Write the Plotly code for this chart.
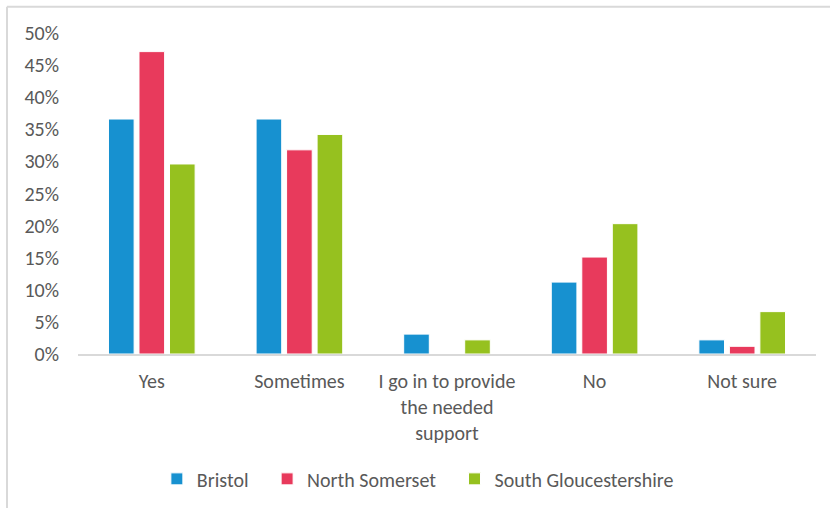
import plotly.graph_objects as go

categories = ["Yes", "Sometimes", "I go in to provide<br>the needed<br>support", "No", "Not sure"]
bristol = [0.366, 0.366, 0.031, 0.112, 0.022]
north_somerset = [0.471, 0.318, 0.0, 0.151, 0.012]
south_glos = [0.296, 0.342, 0.022, 0.203, 0.066]

series = [
    ("Bristol", bristol, "#1791D0"),
    ("North Somerset", north_somerset, "#E83A5C"),
    ("South Gloucestershire", south_glos, "#96C11F"),
]

font_family = "Carlito, Lato, 'Open Sans', sans-serif"
text_color = "#595959"
border_color = "#D9D9D9"

fig = go.Figure()
for name, vals, color in series:
    fig.add_trace(go.Bar(
        name=name + "\u00a0\u00a0\u00a0", x=categories, y=vals,
        marker=dict(color=color, line=dict(color="white", width=1)),
    ))

fig.update_layout(
    width=830, height=511,
    margin=dict(l=78, r=14, t=33, b=155),
    paper_bgcolor="white", plot_bgcolor="white",
    barmode="group", bargap=0.38, bargroupgap=0.16,
    font=dict(family=font_family, size=20, color=text_color),
    showlegend=True,
    legend=dict(orientation="h", x=0.47, xanchor="center", y=-0.389, yanchor="middle",
                font=dict(size=20, color=text_color), itemwidth=30,
                traceorder="normal"),
    xaxis=dict(showgrid=False, showline=True, linecolor=border_color, linewidth=2,
               ticks="", ticklabelstandoff=8, tickfont=dict(size=20, color=text_color)),
    yaxis=dict(range=[0, 0.5], dtick=0.05, tickformat=".0%", showgrid=False,
               zeroline=False, showline=False, ticks="", ticklabelstandoff=18,
               tickfont=dict(size=20, color=text_color)),
    # chart frame: only the left and top edges fall inside the page
    shapes=[
        dict(type="line", xref="paper", yref="paper", x0=-0.0962, x1=-0.0962,
             y0=-0.48, y1=1.082, line=dict(color=border_color, width=2), layer="below"),
        dict(type="line", xref="paper", yref="paper", x0=-0.0962, x1=1.019,
             y0=1.082, y1=1.082, line=dict(color=border_color, width=2), layer="below"),
    ],
)

fig.write_html("out.html")
